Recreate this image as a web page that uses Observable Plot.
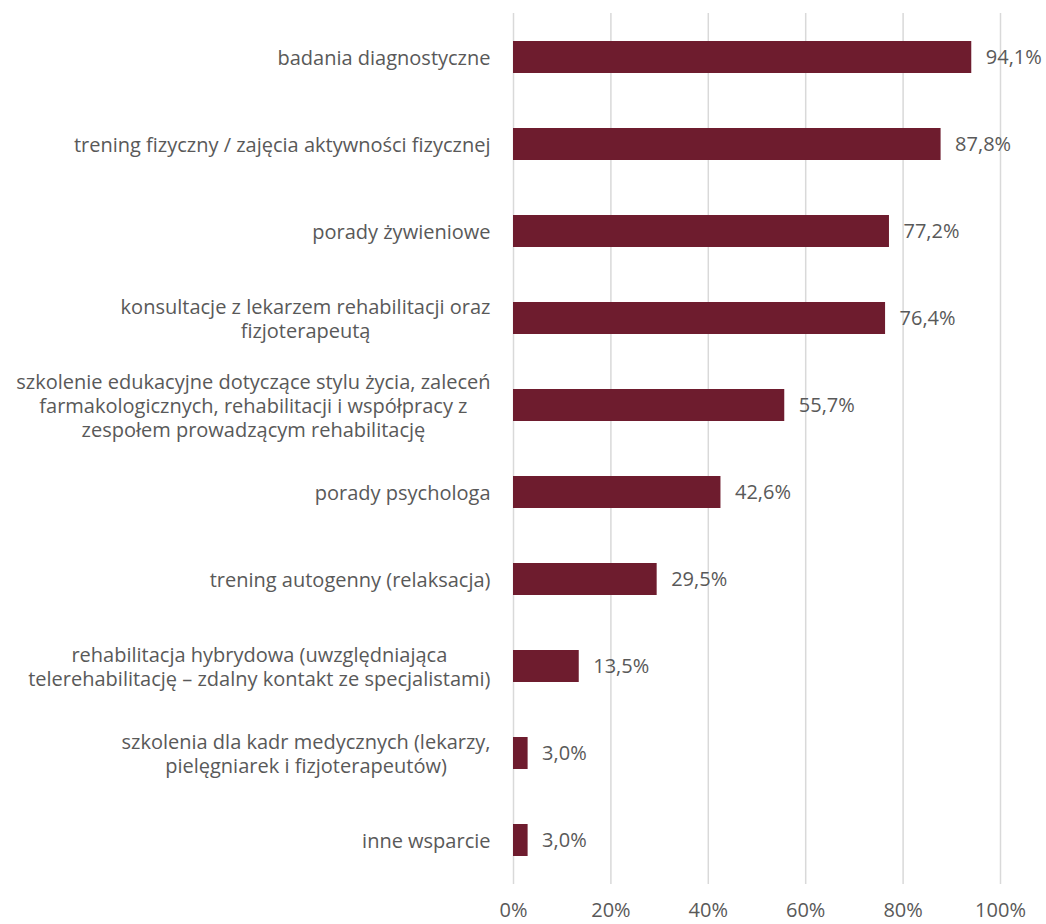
<!DOCTYPE html>
<html>
<head>
<meta charset="utf-8">
<script src="https://cdn.jsdelivr.net/npm/d3@7"></script>
<script src="https://cdn.jsdelivr.net/npm/@observablehq/plot@0.6"></script>
<style>
  html, body { margin: 0; padding: 0; background: #fff; }
  #chart { width: 1046px; height: 924px; }
</style>
</head>
<body>
<div id="chart"></div>
<script>
const categories = [
  "badania diagnostyczne",
  "trening fizyczny / zajęcia aktywności fizycznej",
  "porady żywieniowe",
  "konsultacje z lekarzem rehabilitacji oraz\nfizjoterapeutą",
  "szkolenie edukacyjne dotyczące stylu życia, zaleceń\nfarmakologicznych, rehabilitacji i współpracy z\nzespołem prowadzącym rehabilitację",
  "porady psychologa",
  "trening autogenny (relaksacja)",
  "rehabilitacja hybrydowa (uwzględniająca\ntelerehabilitację – zdalny kontakt ze specjalistami)",
  "szkolenia dla kadr medycznych (lekarzy,\npielęgniarek i fizjoterapeutów)",
  "inne wsparcie"
];
const values = [94.1, 87.8, 77.2, 76.4, 55.7, 42.6, 29.5, 13.5, 3.0, 3.0];
const xTicks = [0, 20, 40, 60, 80, 100];

const data = categories.map((c, i) => ({category: c, value: values[i]}));
const FONT = "Open Sans, sans-serif";
const GRAY = "#595959";
const FS = 20;

const chart = Plot.plot({
  width: 1046,
  height: 924,
  marginLeft: 513,
  marginRight: 46,
  marginTop: 13,
  marginBottom: 40,
  style: {fontFamily: FONT, fontSize: FS + "px", color: GRAY, background: "#fff"},
  x: {domain: [0, 100], ticks: xTicks},
  y: {domain: categories, paddingInner: 0.633, paddingOuter: 0.317},
  marks: [
    Plot.gridX(xTicks, {stroke: "#d9d9d9", strokeOpacity: 1, strokeWidth: 1.5}),
    Plot.axisX(xTicks, {tickSize: 0, tickPadding: 18, tickFormat: d => d + "%", fill: GRAY, fontSize: FS, label: null}),
    Plot.axisY({tickSize: 0, tickPadding: 23, fill: GRAY, fontSize: FS, lineHeight: 1.2, label: null, textOverflow: null, lineWidth: Infinity}),
    Plot.barX(data, {x: "value", y: "category", fill: "#6e1c2e"}),
    Plot.text(data, {x: "value", y: "category", text: d => d.value.toFixed(1).replace(".", ",") + "%", textAnchor: "start", dx: 14, fill: GRAY, fontSize: FS})
  ]
});
document.getElementById("chart").appendChild(chart);

// center multi-line y labels within their right-aligned block
const ax = chart.querySelector('g[aria-label="y-axis tick label"]');
if (ax) {
  ax.querySelectorAll("text").forEach(t => {
    const spans = t.querySelectorAll("tspan");
    if (spans.length > 1) {
      const xr = +(t.getAttribute("x") || 0);
      const ws = Array.from(spans).map(s => s.getComputedTextLength());
      const maxW = Math.max(...ws);
      t.setAttribute("text-anchor", "middle");
      spans.forEach(s => s.setAttribute("x", xr - maxW / 2));
    }
  });
}
</script>
</body>
</html>
